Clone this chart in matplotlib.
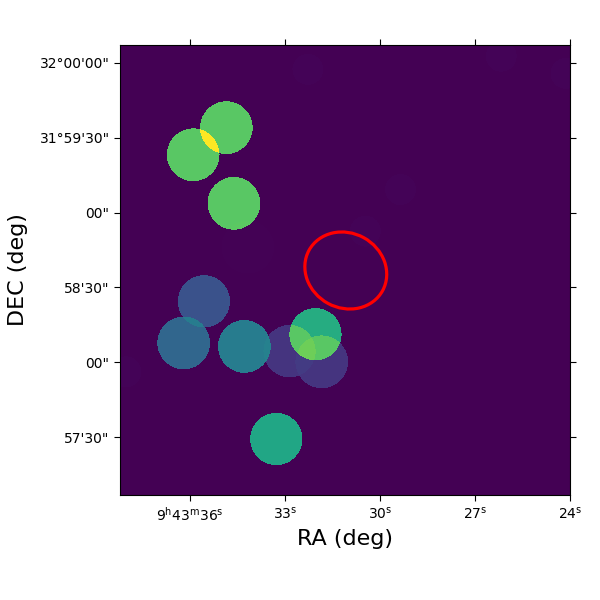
import numpy as np
import matplotlib
matplotlib.use("Agg")
import matplotlib.pyplot as plt
from matplotlib.colors import FuncNorm
from matplotlib.patches import Ellipse

# source positions: RA seconds after 9h43m, DEC arcsec after 31d58m00s
ra_sec = [34.86, 35.91, 34.62, 34.18, 32.28, 29.35, 30.46, 26.16, 24.11,
          35.57, 36.21, 34.29, 32.86, 31.84, 32.04, 33.28, 38.04]
dec_arc = [94.2, 83.3, 63.8, 46.2, 117.6, 69.3, 52.6, 122.9, 116.0,
           24.4, 7.7, 6.3, 4.4, 0.1, 11.2, -30.9, -3.9]
radius = [10.6, 10.6, 10.6, 10.6, 6.2, 6.2, 6.2, 6.2, 6.2,
          10.5, 10.6, 10.6, 10.5, 10.6, 10.5, 10.5, 6.2]
flux = [0.52, 0.52, 0.52, 0.0008, 0.0015, 0.0015, 0.0012, 0.0015, 0.0015,
        0.10, 0.20, 0.30, 0.02, 0.02, 0.50, 0.47, 0.0015]

# error ellipse
ell_ra, ell_dec = 31.08, 36.8
ell_w, ell_h, ell_ang = 33.7, 30.0, 28.6

ra_ticks = [36, 33, 30, 27, 24]
ra_labels = [r"9$^{\mathrm{h}}$43$^{\mathrm{m}}$36$^{\mathrm{s}}$", r"33$^{\mathrm{s}}$",
             r"30$^{\mathrm{s}}$", r"27$^{\mathrm{s}}$", r"24$^{\mathrm{s}}$"]
dec_ticks = [120, 90, 60, 30, 0, -30]
dec_labels = ["32\u00b000'00\"", "31\u00b059'30\"", "00\"", "58'30\"", "00\"", "57'30\""]

stretch_in = [0, 0.02, 0.10, 0.20, 0.30, 0.32, 0.47, 0.50, 0.52, 0.54, 1.04]
stretch_out = [0, 0.15, 0.25, 0.33, 0.42, 0.44, 0.59, 0.62, 0.745, 0.78, 1.0]

# arcsec on sky per second of RA at this DEC
k = 15 * np.cos(np.radians(32))

def ra_to_x(s):
    return (np.asarray(s) - 24.0) * k

x_left, x_right = ra_to_x(38.21), ra_to_x(24.0)
y_bot, y_top = -53.2, 127.2

nx, ny = 450, 450
xs = np.linspace(x_left, x_right, nx)
ys = np.linspace(y_bot, y_top, ny)
xx, yy = np.meshgrid(xs, ys)
img = np.zeros((ny, nx))
for s, d, r, f in zip(ra_sec, dec_arc, radius, flux):
    img[(xx - ra_to_x(s))**2 + (yy - d)**2 < r**2] += f

norm = FuncNorm((lambda v: np.interp(v, stretch_in, stretch_out),
                 lambda v: np.interp(v, stretch_out, stretch_in)), vmin=0, vmax=1.04)

fig = plt.figure(figsize=(6, 6), dpi=100)
ax = fig.add_axes([0.2, 0.175, 0.75, 0.75])
ax.imshow(img, origin="lower", cmap="viridis", norm=norm, aspect="auto",
          extent=[x_left, x_right, y_bot, y_top], interpolation="nearest")
ax.add_patch(Ellipse((ra_to_x(ell_ra), ell_dec), ell_w, ell_h, angle=ell_ang,
                     fill=False, edgecolor="red", linewidth=2.3))

ax.set_xticks(ra_to_x(ra_ticks))
ax.set_xticklabels(ra_labels)
ax.set_yticks(dec_ticks)
ax.set_yticklabels(dec_labels)
ax.set_xlim(x_left, x_right)
ax.set_ylim(y_bot, y_top)
ax.tick_params(top=True, right=True, direction="out", length=4, labelsize=10)
ax.set_xlabel("RA (deg)", fontsize=16)
ax.set_ylabel("DEC (deg)", fontsize=16, labelpad=8)

fig.savefig("out.png", dpi=100)
